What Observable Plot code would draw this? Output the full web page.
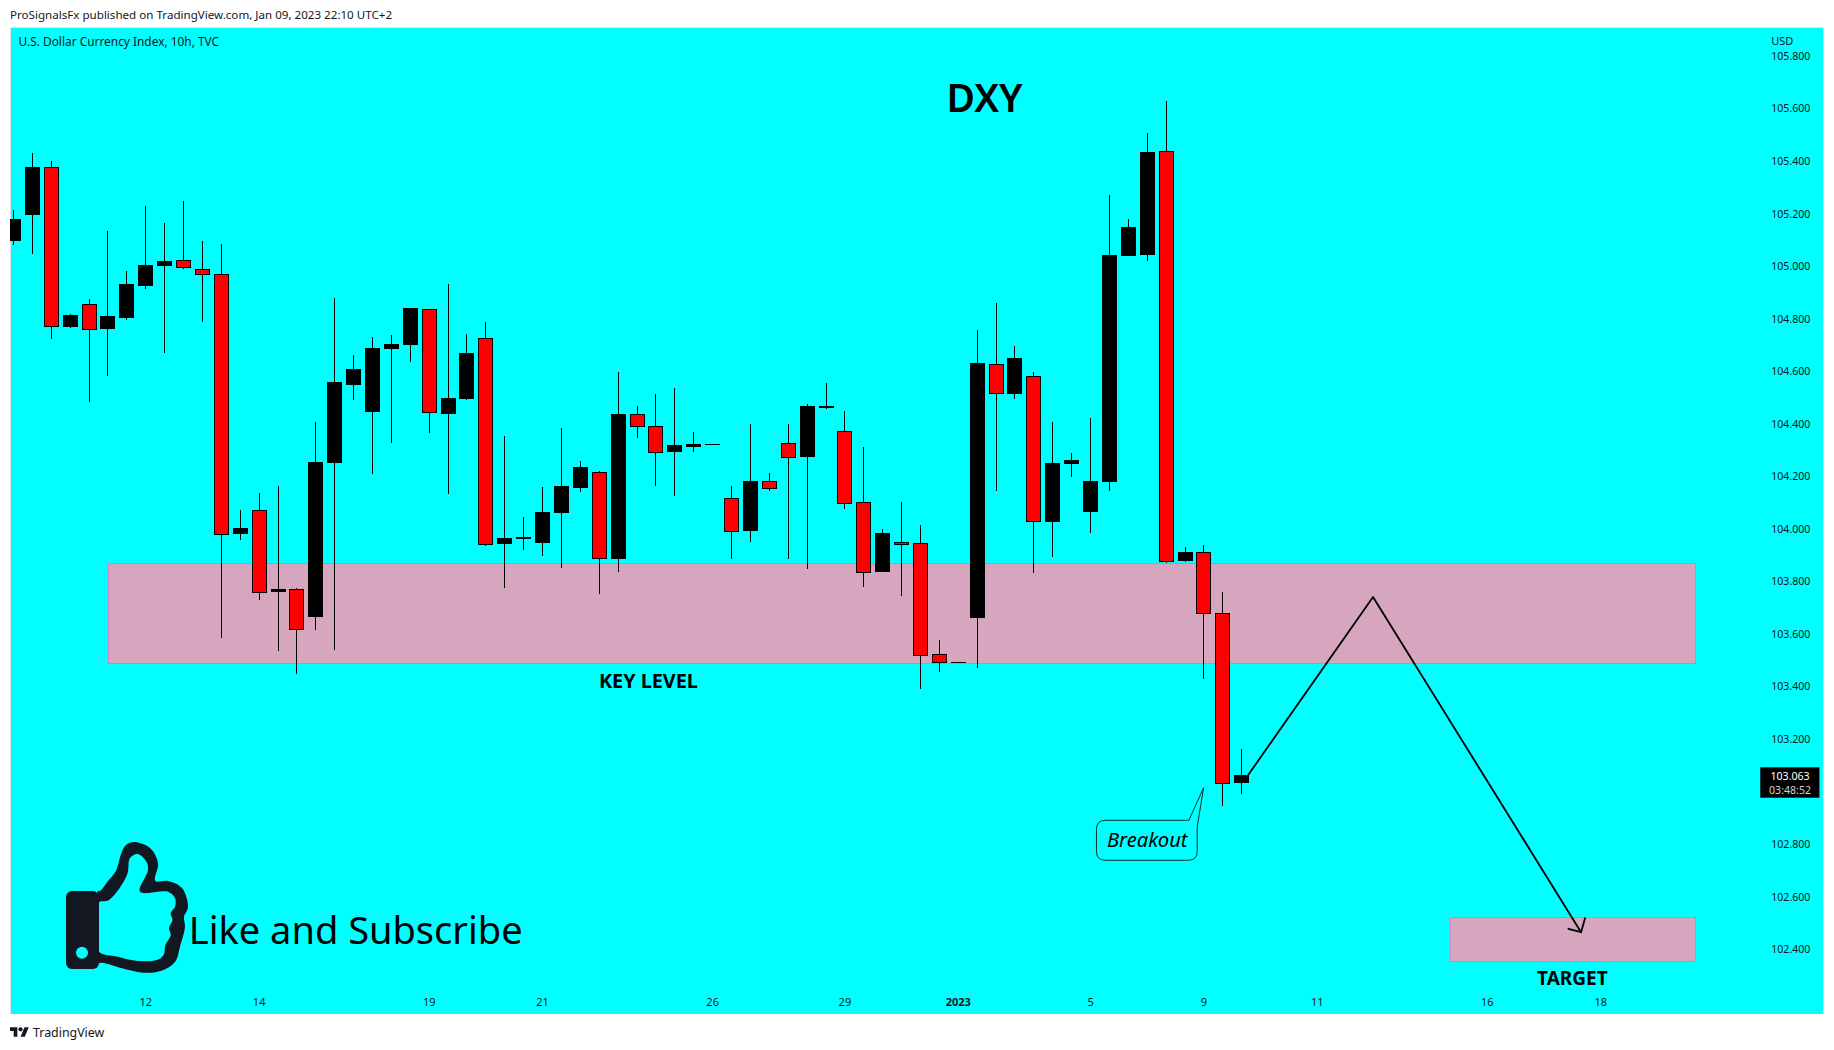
<!DOCTYPE html>
<html>
<head>
<meta charset="utf-8">
<script src="https://cdn.jsdelivr.net/npm/d3@7"></script>
<script src="https://cdn.jsdelivr.net/npm/@observablehq/plot@0.6"></script>
<style>
html,body{margin:0;padding:0;background:#fff;overflow:hidden}
body{font-family:"Noto Sans",sans-serif;color:#131722}
#head{height:27px;line-height:29px;padding-left:10px;font-size:11.6px;white-space:nowrap;box-sizing:border-box}
#foot{height:36px;padding-left:10px;font-size:12.4px;display:flex;align-items:center;gap:4px;box-sizing:border-box}
#chart svg{display:block}
</style>
</head>
<body>
<div id="head">ProSignalsFx published on TradingView.com, Jan 09, 2023 22:10 UTC+2</div>
<div id="chart"></div>
<div id="foot"><svg width="19" height="10" viewBox="0 4 36 18"><path fill="#131722" d="M14 22H7V11H0V4h14v18zM28 22h-8l7.5-18h8L28 22z"/><circle fill="#131722" cx="20" cy="8" r="4"/></svg><span>TradingView</span></div>
<script>
const opens = [105.097,105.195,105.376,104.772,104.855,104.761,104.806,104.928,105.004,105.020,104.989,104.970,103.981,104.071,103.760,103.770,103.665,104.251,104.551,104.445,104.688,104.700,104.836,104.441,104.498,104.725,103.943,103.962,103.950,104.061,104.159,104.215,103.889,104.436,104.390,104.293,104.312,104.321,104.116,103.992,104.181,104.326,104.274,104.462,104.371,104.101,103.836,103.950,103.945,103.523,103.492,103.661,104.626,104.517,104.581,104.030,104.247,104.068,104.179,105.042,105.046,105.437,103.878,103.911,103.679,103.033];
const highs = [105.214,105.431,105.400,104.818,104.875,105.134,104.982,105.229,105.164,105.248,105.096,105.084,104.072,104.137,104.163,103.775,104.407,104.879,104.662,104.730,104.738,104.837,104.837,104.932,104.742,104.787,104.354,104.045,104.159,104.384,104.258,104.220,104.597,104.468,104.513,104.536,104.369,104.323,104.163,104.399,104.213,104.399,104.475,104.555,104.449,104.312,104.000,104.102,104.015,103.577,103.493,104.757,104.860,104.696,104.597,104.407,104.289,104.422,105.271,105.179,105.507,105.629,103.931,103.939,103.760,103.162];
const lows = [105.081,105.046,104.723,104.765,104.483,104.582,104.795,104.913,104.669,104.990,104.787,103.585,103.958,103.729,103.535,103.448,103.615,103.539,104.491,104.209,104.327,104.635,104.365,104.133,104.491,103.935,103.775,103.920,103.897,103.851,104.140,103.752,103.836,104.346,104.163,104.125,104.293,104.321,103.885,103.950,104.144,103.885,103.847,104.456,104.076,103.779,103.836,103.745,103.391,103.455,103.492,103.471,104.144,104.494,103.832,103.893,104.198,103.984,104.144,105.042,105.020,103.870,103.874,103.429,102.947,102.992];
const closes = [105.176,105.374,104.770,104.814,104.758,104.810,104.932,105.004,105.016,104.994,104.967,103.978,104.000,103.757,103.771,103.616,104.251,104.559,104.605,104.688,104.700,104.837,104.442,104.498,104.666,103.940,103.965,103.969,104.064,104.163,104.232,103.887,104.434,104.389,104.290,104.316,104.323,104.323,103.989,104.179,104.153,104.271,104.464,104.464,104.096,103.833,103.984,103.940,103.517,103.491,103.493,104.628,104.515,104.650,104.027,104.247,104.262,104.179,105.039,105.149,105.434,103.875,103.912,103.677,103.032,103.063];

const yTicks = [105.8,105.6,105.4,105.2,105.0,104.8,104.6,104.4,104.2,104.0,103.8,103.6,103.4,103.2,102.8,102.6,102.4];
const xTickBars = [7,13,22,28,37,44,57,63,69,78,84];
const xTickLabels = ["12","14","19","21","26","29","5","9","11","16","18"];
const yearTickBar = [50];
const yearTickLabel = "2023";

const keyLevel = {x1:5.02,x2:89,y1:103.4884,y2:103.8664};
const targetZone = {x1:76.03,x2:89,y1:102.3554,y2:102.5191};
const pathBars = [65.26,71.95,82.96];
const pathPrices = [103.0568,103.7427,102.4669];
const headBars = [83.17,82.96,82.29];
const headPrices = [102.5202,102.4669,102.4799];
const calloutBars = {left:57.34,right:62.67,base:62.23,tip:63.01};
const calloutPrices = {top:102.8909,bottom:102.7387,side:102.8654,tip:103.0148};
const lastBox = {x1:92.47,x2:95.6,y1:102.9769,y2:103.0926};

const bars = opens.map((o,i)=>({i,o,h:highs[i],l:lows[i],c:closes[i],up:closes[i]>=o}));
const hw = 0.3705;

// Decorative "like" icon outline, page pixels
const thumbOuter = [[100,891],[108,881],[116,870.7],[121.4,853],[126,845],[134,842],[150,848],[158,863],[155.4,881],[168,881],[182,888],[188,907],[184,917],[185,927],[180.4,945],[175,962],[160.7,971],[143,972.7],[121.4,968],[104,963],[98,962],[98,891]];
const thumbInner = [[98,903],[109,900],[127,875],[130,858],[137.5,854],[146.4,861.7],[148,870],[140,891.7],[168,891.7],[175,898],[175,907],[170.7,913],[172.5,920],[169,928],[170.7,935],[165.4,945],[163.6,955],[157,960],[136,960.7],[118,956.7],[98,950.7]];

const FONT = '"Noto Sans",sans-serif';
const TXT = "#131722";

function thumbMark(){
  const g = d3.create("svg:g").attr("transform","translate(0,-27)").attr("fill",TXT);
  const closed = d3.line().curve(d3.curveCatmullRomClosed.alpha(0.5));
  g.append("path").attr("fill-rule","evenodd").attr("d", closed(thumbOuter)+" "+closed(thumbInner));
  g.append("rect").attr("x",66).attr("y",891).attr("width",33).attr("height",78).attr("rx",6);
  g.append("circle").attr("cx",82).attr("cy",952.7).attr("r",6).attr("fill","#00ffff");
  return g.node();
}
function calloutMark(_, {x,y}){
  const L=x(calloutBars.left),R=x(calloutBars.right),B=x(calloutBars.base),Tx=x(calloutBars.tip);
  const T=y(calloutPrices.top),Bo=y(calloutPrices.bottom),S=y(calloutPrices.side),Ty=y(calloutPrices.tip);
  const r=9,p=d3.path();
  p.moveTo(L+r,T);p.lineTo(B,T);p.lineTo(Tx,Ty);p.lineTo(R,S);p.lineTo(R,Bo-r);
  p.quadraticCurveTo(R,Bo,R-r,Bo);p.lineTo(L+r,Bo);p.quadraticCurveTo(L,Bo,L,Bo-r);
  p.lineTo(L,T+r);p.quadraticCurveTo(L,T,L+r,T);p.closePath();
  return d3.create("svg:path").attr("d",p.toString()).attr("fill","#00ffff").attr("stroke","#0a2a2a").attr("stroke-width",1).node();
}

const chart = Plot.plot({
  width:1834,height:987,
  marginLeft:10,marginRight:11,marginTop:0,marginBottom:0,
  x:{type:"linear",domain:[-0.1588,95.79],axis:null},
  y:{type:"linear",domain:[102.1537,105.9102],axis:null},
  style:{background:"transparent",fontFamily:FONT,color:TXT,display:"block"},
  marks:[
    Plot.frame({fill:"#00ffff",stroke:"#dfe3ea",strokeWidth:1}),
    Plot.rect([keyLevel,targetZone],{x1:"x1",x2:"x2",y1:"y1",y2:"y2",dx:0.5,fill:"#d5a6bd",stroke:"#d580c0",strokeWidth:1,shapeRendering:"crispEdges"}),
    Plot.ruleX(bars,{x:"i",y1:"l",y2:"h",stroke:"#000",strokeWidth:1,clip:true,shapeRendering:"crispEdges"}),
    Plot.rect(bars,{x1:d=>d.i-hw,x2:d=>d.i+hw,y1:"o",y2:"c",dx:0.5,fill:d=>d.up?"#000000":"#ff0000",stroke:"#000",strokeWidth:1,clip:true,shapeRendering:"crispEdges"}),
    Plot.line(pathBars.map((b,i)=>[b,pathPrices[i]]),{x:d=>d[0],y:d=>d[1],stroke:"#000",strokeWidth:1.8}),
    Plot.line(headBars.map((b,i)=>[b,headPrices[i]]),{x:d=>d[0],y:d=>d[1],stroke:"#000",strokeWidth:1.8}),
    calloutMark,
    thumbMark,
    Plot.text(["DXY"],{x:51.39,y:105.642,dy:2,fontSize:39,fontWeight:600,fill:"#000"}),
    Plot.text(["KEY LEVEL"],{x:33.6,y:103.421,fontSize:19.8,fontWeight:700,fill:"#000"}),
    Plot.text(["TARGET"],{x:82.5,y:102.29,fontSize:19,fontWeight:700,fill:"#000"}),
    Plot.text(["Like and Subscribe"],{x:18.11,y:102.4734,dy:1,fontSize:38,fill:"#000"}),
    Plot.text(["Breakout"],{x:60,y:102.8159,fontSize:20.2,fontStyle:"italic",fill:"#000"}),
    Plot.text(["U.S. Dollar Currency Index, 10h, TVC"],{frameAnchor:"top-left",dx:8,dy:10,fontSize:11.9,fill:TXT}),
    Plot.text(["USD"],{frameAnchor:"top-right",dx:-52.3,dy:10,textAnchor:"start",fontSize:11,fill:TXT}),
    Plot.axisY(yTicks,{anchor:"right",tickSize:0,tickPadding:-52.3,tickFormat:d3.format(".3f"),label:null,fontSize:10.6,fill:TXT}),
    Plot.axisX(xTickBars,{anchor:"bottom",tickSize:0,tickPadding:-16.5,tickFormat:d=>xTickLabels[xTickBars.indexOf(d)],label:null,fontSize:11,fill:TXT}),
    Plot.axisX(yearTickBar,{anchor:"bottom",tickSize:0,tickPadding:-16.5,tickFormat:()=>yearTickLabel,label:null,fontSize:11,fontWeight:"bold",fill:TXT}),
    Plot.rect([lastBox],{x1:"x1",x2:"x2",y1:"y1",y2:"y2",fill:"#000"}),
    Plot.text(["103.063"],{x:94.02,y:103.0622,dy:0.5,fontSize:10.6,fill:"#fff"}),
    Plot.text(["03:48:52"],{x:94.02,y:103.0090,dy:0.5,fontSize:10.6,fill:"#cfcfcf"})
  ]
});
document.getElementById("chart").append(chart);
</script>
</body>
</html>
